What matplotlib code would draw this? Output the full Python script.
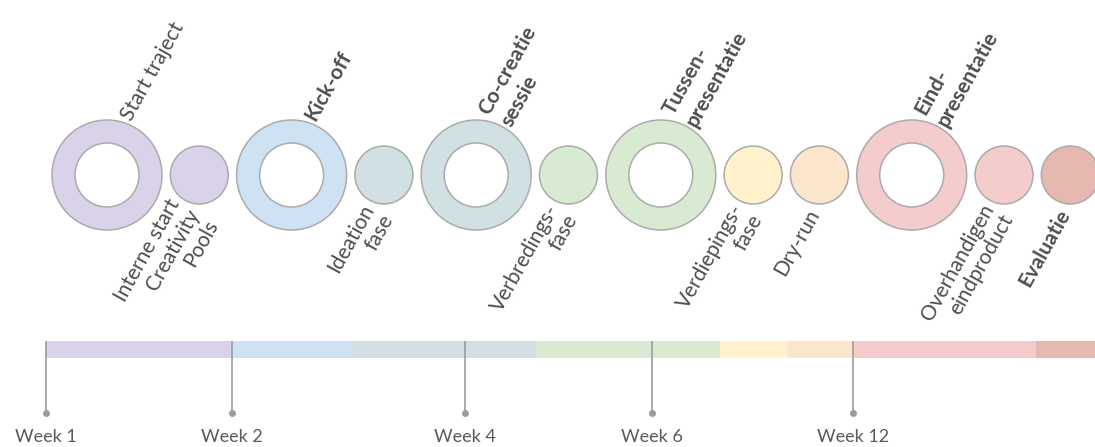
import matplotlib.pyplot as plt
from matplotlib.patches import Circle

# Steps in the project (left to right)
step_labels = ["Start traject", "Interne start\nCreativity\nPools", "Kick-off",
               "Ideation\nfase", "Co-creatie\nsessie", "Verbredings-\nfase",
               "Tussen-\npresentatie", "Verdiepings-\nfase", "Dry-run",
               "Eind-\npresentatie", "Overhandigen\neindproduct", "Evaluatie"]
milestone = [True, False, True, False, True, False, True, False, False, True, False, False]
bold = [False, False, True, False, True, False, True, False, False, True, False, True]
step_colors = ["#d9d2e9", "#d9d2e9", "#cfe2f3", "#d0e0e3", "#d0e0e3", "#d9ead3",
               "#d9ead3", "#fff2cc", "#fce5cd", "#f4cccc", "#f4cccc", "#e6b8af"]

# Timeline bar (phase edges along the timeline)
phase_edges = [46, 232, 351, 536, 720, 787, 853, 1036, 1095]
phase_colors = ["#d9d2e9", "#cfe2f3", "#d0e0e3", "#d9ead3", "#fff2cc",
                "#fce5cd", "#f4cccc", "#e6b8af"]
week_labels = ["Week 1", "Week 2", "Week 4", "Week 6", "Week 12"]
week_pos = [46, 232, 465, 652, 853]

# layout
W, H = 1095, 447
R_BIG, R_HOLE, R_SMALL = 55, 32, 29
GAP = 8.3
CY = 175
BAR_TOP, BAR_H = 341, 17
TICK_END = 413

plt.rcParams["font.family"] = ["Lato", "DejaVu Sans"]
TXT = "#4d4d4d"
FS = 15

fig = plt.figure(figsize=(W / 100, H / 100), dpi=100)
ax = fig.add_axes([0, 0, 1, 1])
ax.set_xlim(0, W)
ax.set_ylim(H, 0)
ax.axis("off")

x = 107
prev_r = None
for lab, big, b, col in zip(step_labels, milestone, bold, step_colors):
    r = R_BIG if big else R_SMALL
    if prev_r is not None:
        x += prev_r + GAP + r
    ax.add_patch(Circle((x, CY), r, fc=col, ec="#ababab", lw=1.1))
    weight = "bold" if b else "normal"
    if big:
        ax.add_patch(Circle((x, CY), R_HOLE, fc="white", ec="#ababab", lw=1.1))
        ax.text(x + 19, CY - 56, lab, rotation=61, rotation_mode="anchor",
                ha="left", va="center", fontsize=FS, color=TXT,
                fontweight=weight, linespacing=1.3)
    else:
        ax.text(x - 5, CY + 36, lab, rotation=61, rotation_mode="anchor",
                ha="right", va="center", fontsize=FS, color=TXT,
                fontweight=weight, linespacing=1.1)
    prev_r = r

lefts = phase_edges[:-1]
widths = [b - a for a, b in zip(phase_edges[:-1], phase_edges[1:])]
ax.barh(BAR_TOP + BAR_H / 2, widths, left=lefts, height=BAR_H, color=phase_colors, lw=0)

ax.vlines(week_pos, BAR_TOP, TICK_END, color="#9c9c9c", lw=1.2)
ax.scatter(week_pos, [TICK_END] * len(week_pos), s=16, color="#9c9c9c", zorder=3)
for wx, wl in zip(week_pos, week_labels):
    ax.text(wx, 437, wl, ha="center", va="center", fontsize=13,
            color="#5a5a5a")

fig.savefig("out.png", dpi=100)
